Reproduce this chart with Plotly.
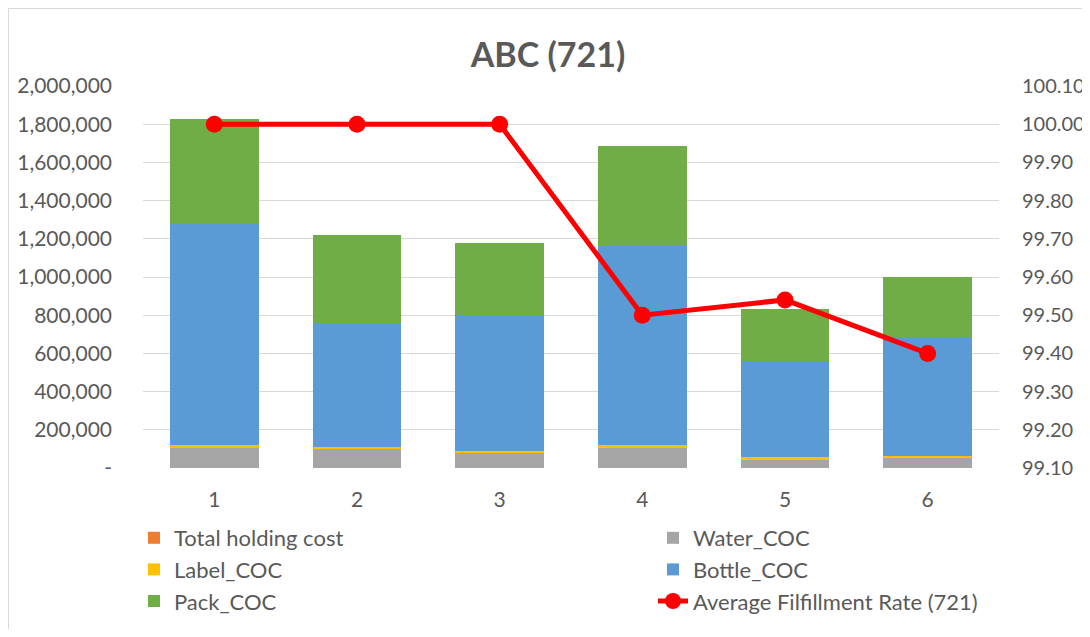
import plotly.graph_objects as go

categories = ["1", "2", "3", "4", "5", "6"]
total_holding_cost = [0, 0, 0, 0, 0, 0]
water_coc = [107000, 97000, 77000, 106000, 46000, 52000]
label_coc = [11000, 11000, 11000, 12000, 10000, 11000]
bottle_coc = [1162000, 652000, 713000, 1042000, 506000, 623000]
pack_coc = [545000, 461000, 379000, 525000, 273000, 315000]
fill_rate = [100.00, 100.00, 100.00, 99.50, 99.54, 99.40]

left_ticks = [0, 200000, 400000, 600000, 800000, 1000000, 1200000, 1400000, 1600000, 1800000, 2000000]
left_ticktext = ["-", "200,000", "400,000", "600,000", "800,000", "1,000,000", "1,200,000",
                 "1,400,000", "1,600,000", "1,800,000", "2,000,000"]
right_ticks = [99.1, 99.2, 99.3, 99.4, 99.5, 99.6, 99.7, 99.8, 99.9, 100.0, 100.1]

FONT = "Lato, Carlito, sans-serif"
TXT = "#595959"

# page has an 8px body margin; figure coords = page coords - 8
W, H = 1082, 621
L, R, T, B = 135, 91, 78, 161
PW, PH = W - L - R, H - T - B


def px(x):
    return (x - L) / PW


def py(y):
    return (H - B - y) / PH


fig = go.Figure()
fig.add_bar(x=categories, y=total_holding_cost, name="Total holding cost", marker_color="#ED7D31",
            legend="legend", legendgroup="a")
fig.add_bar(x=categories, y=water_coc, name="Water_COC", marker_color="#A5A5A5",
            legend="legend2", legendgroup="b")
fig.add_bar(x=categories, y=label_coc, name="Label_COC", marker_color="#FFC000",
            legend="legend", legendgroup="c")
fig.add_bar(x=categories, y=bottle_coc, name="Bottle_COC", marker_color="#5B9BD5",
            legend="legend2", legendgroup="d")
fig.add_bar(x=categories, y=pack_coc, name="Pack_COC", marker_color="#70AD47",
            legend="legend", legendgroup="e")
fig.add_scatter(x=categories, y=fill_rate, name="Average Filfillment Rate (721)", yaxis="y2",
                mode="lines+markers", line=dict(color="#FF0000", width=5),
                marker=dict(color="#FF0000", size=17), legend="legend2", legendgroup="f")

fig.update_traces(selector=dict(type="bar"), marker_line_width=0)

leg_common = dict(orientation="v", yanchor="top", xanchor="left", traceorder="normal",
                  font=dict(size=22, color=TXT, family=FONT), itemwidth=30,
                  tracegroupgap=9, bgcolor="rgba(0,0,0,0)")

fig.update_layout(
    width=W, height=H,
    barmode="stack", bargap=0.38,
    paper_bgcolor="white", plot_bgcolor="white",
    font=dict(family=FONT, color=TXT, size=21),
    title=dict(text="<b>ABC (721)</b>", x=540 / W, xanchor="center",
               y=1 - 47 / H, yanchor="middle",
               font=dict(size=34, color=TXT, family=FONT)),
    margin=dict(l=L, r=R, t=T, b=B, autoexpand=False),
    xaxis=dict(showgrid=False, showline=False, ticks="", tickfont=dict(size=21, color=TXT),
               ticklabelstandoff=17),
    yaxis=dict(range=[0, 2000000], tickvals=left_ticks, ticktext=left_ticktext,
               showgrid=True, gridcolor="#D9D9D9", gridwidth=1, zeroline=False,
               tickfont=dict(size=21, color=TXT), ticks="", ticklabelstandoff=30),
    yaxis2=dict(range=[99.1, 100.1], tickvals=right_ticks, tickformat=".2f",
                overlaying="y", side="right", showgrid=False, zeroline=False,
                tickfont=dict(size=20, color=TXT), ticks="", ticklabelstandoff=22),
    legend=dict(x=px(126), y=py(509), **leg_common),
    legend2=dict(x=px(645), y=py(509), **leg_common),
    shapes=[dict(type="rect", xref="paper", yref="paper", x0=px(0.5), x1=px(W + 10),
                 y0=py(H + 10), y1=py(0.5), line=dict(color="#D9D9D9", width=1))],
)

fig.write_html("out.html")
